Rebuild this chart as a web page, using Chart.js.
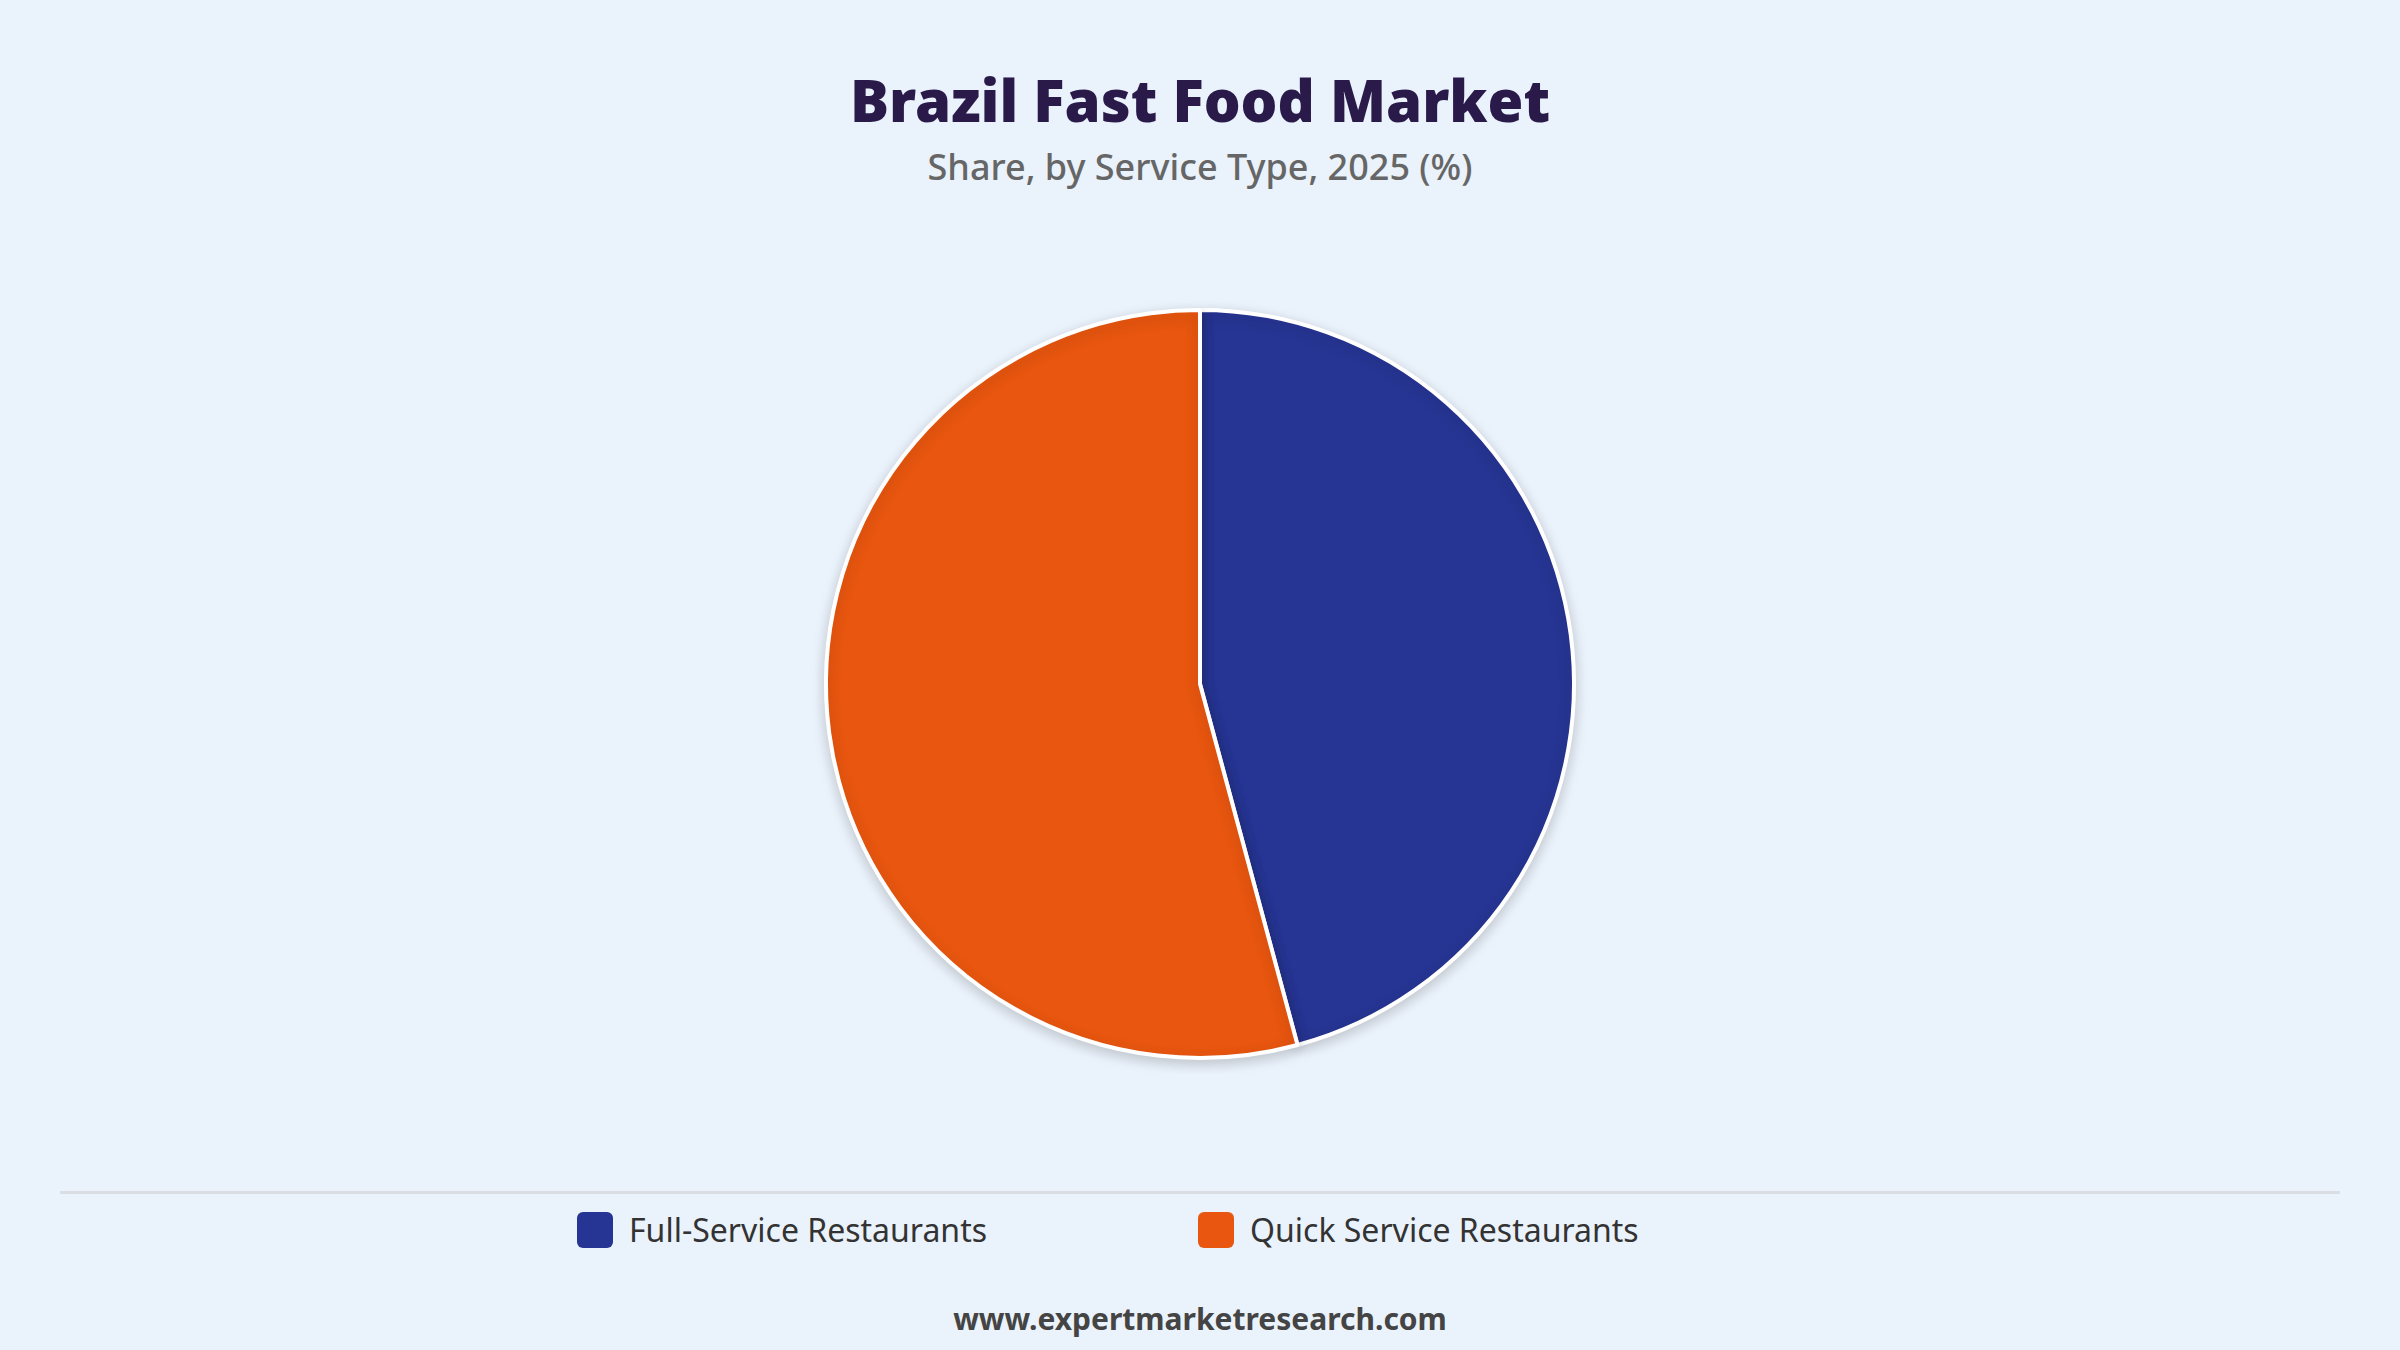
<!DOCTYPE html>
<html>
<head>
<meta charset="utf-8">
<script src="https://cdn.jsdelivr.net/npm/chart.js@4"></script>
<style>
  body { margin: 0; width: 2400px; height: 1350px; background: #EAF2FB; font-family: "Noto Sans", "Open Sans", sans-serif; position: relative; overflow: hidden; }
  #title { position: absolute; top: 60px; width: 100%; text-align: center; font-size: 58px; font-weight: 900; color: #2A1A4A; }
  #subtitle { position: absolute; top: 142px; width: 100%; text-align: center; font-size: 36px; font-weight: 500; color: #666; }
  #wrap { position: absolute; left: 0; top: 294px; width: 2400px; height: 780px; }
  #sep { position: absolute; left: 60px; top: 1191px; width: 2280px; height: 3px; background: #DADDE2; }
  #legend { position: absolute; top: 1208px; left: 0; width: 2400px; height: 44px; }
  .item { position: absolute; display: flex; align-items: center; font-size: 32px; color: #333; }
  .box { width: 36px; height: 36px; border-radius: 6px; margin-right: 16px; }
  #footer { position: absolute; top: 1298px; width: 100%; text-align: center; font-size: 30px; font-weight: 700; color: #444; }
</style>
</head>
<body>
<div id="title">Brazil Fast Food Market</div>
<div id="subtitle">Share, by Service Type, 2025 (%)</div>
<div id="wrap"><canvas id="pie"></canvas></div>
<div id="sep"></div>
<div id="legend"></div>
<div id="footer">www.expertmarketresearch.com</div>
<script>
const categories = ['Full-Service Restaurants', 'Quick Service Restaurants'];
const shares = [45.8, 54.2];
const colors = ['#263593', '#E8560F'];

const legendX = [577, 1198];
const legend = document.getElementById('legend');
categories.forEach(function(name, i) {
    const item = document.createElement('div');
    item.className = 'item';
    item.style.left = legendX[i] + 'px';
    item.innerHTML = '<div class="box" style="background:' + colors[i] + '"></div>' + name;
    legend.appendChild(item);
});

// soft shadow under the pie
const shadow = {
    id: 'shadow',
    beforeDatasetsDraw(chart) {
        const ctx = chart.ctx;
        ctx.save();
        ctx.shadowColor = 'rgba(0,0,0,0.18)';
        ctx.shadowBlur = 14;
        ctx.shadowOffsetY = 4;
    },
    afterDatasetsDraw(chart) {
        chart.ctx.restore();
    }
};

new Chart(document.getElementById('pie').getContext('2d'), {
    type: 'pie',
    data: {
        labels: categories,
        datasets: [{
            data: shares,
            backgroundColor: colors,
            borderColor: '#ffffff',
            borderWidth: 4
        }]
    },
    options: {
        responsive: true,
        maintainAspectRatio: false,
        animation: false,
        layout: { padding: 14 },
        plugins: {
            legend: { display: false },
            tooltip: { enabled: false }
        }
    },
    plugins: [shadow]
});
</script>
</body>
</html>
